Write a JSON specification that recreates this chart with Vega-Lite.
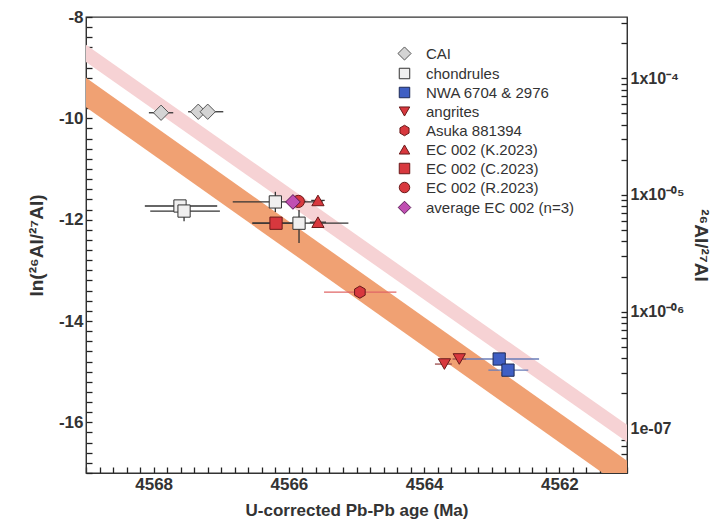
{
  "$schema": "https://vega.github.io/schema/vega-lite/v6.json",
  "width": 541,
  "height": 456,
  "autosize": {"type": "none"},
  "padding": {"left": 86, "top": 17, "right": 98, "bottom": 56},
  "background": "white",
  "config": {
    "view": {"stroke": "#333", "strokeWidth": 1.3},
    "font": "Liberation Sans",
    "axis": {"domainColor": "#333", "tickColor": "#222", "tickWidth": 1.3, "grid": false, "labelFont": "Liberation Sans", "labelFontWeight": "bold", "labelFontSize": 17, "labelColor": "#333", "titleFont": "Liberation Sans", "titleFontWeight": "bold", "titleFontSize": 18, "titleColor": "#333", "tickSize": -6, "labelPadding": 9, "zindex": 1},
    "legend": {"labelFont": "Liberation Sans", "labelFontSize": 15, "labelColor": "#333"}
  },
  "datasets": {
    "pts": [
      {"g": "CAI", "age": 4567.89, "ln": -9.89, "aLo": 4567.71, "aHi": 4568.07},
      {"g": "CAI", "age": 4567.34, "ln": -9.87, "aLo": 4567.19, "aHi": 4567.49},
      {"g": "CAI", "age": 4567.2, "ln": -9.87, "aLo": 4566.97, "aHi": 4567.42},
      {"g": "chondrules", "age": 4567.61, "ln": -11.73, "aLo": 4567.06, "aHi": 4568.13, "lLo": -11.63, "lHi": -11.83},
      {"g": "chondrules", "age": 4567.55, "ln": -11.83, "aLo": 4567.02, "aHi": 4568.05, "lLo": -11.63, "lHi": -12.03},
      {"g": "chondrules", "age": 4566.2, "ln": -11.65, "aLo": 4565.5, "aHi": 4566.83, "lLo": -11.45, "lHi": -11.85},
      {"g": "chondrules", "age": 4565.85, "ln": -12.07, "aLo": 4565.12, "aHi": 4566.54, "lLo": -11.81, "lHi": -12.46},
      {"g": "NWA 6704 & 2976", "age": 4562.89, "ln": -14.75, "aLo": 4562.3, "aHi": 4563.47},
      {"g": "NWA 6704 & 2976", "age": 4562.76, "ln": -14.97, "aLo": 4562.46, "aHi": 4563.05},
      {"g": "angrites", "age": 4563.7, "ln": -14.85, "aLo": 4563.59, "aHi": 4563.84},
      {"g": "angrites", "age": 4563.48, "ln": -14.75, "aLo": 4563.38, "aHi": 4563.58},
      {"g": "Asuka 881394", "age": 4564.95, "ln": -13.43, "aLo": 4564.41, "aHi": 4565.48},
      {"g": "EC 002 (K.2023)", "age": 4565.57, "ln": -11.62, "aLo": 4565.47, "aHi": 4565.67},
      {"g": "EC 002 (K.2023)", "age": 4565.57, "ln": -12.05, "aLo": 4565.45, "aHi": 4565.69},
      {"g": "EC 002 (C.2023)", "age": 4566.19, "ln": -12.07, "aLo": 4565.85, "aHi": 4566.54},
      {"g": "EC 002 (R.2023)", "age": 4565.86, "ln": -11.64, "aLo": 4565.75, "aHi": 4565.97},
      {"g": "average EC 002 (n=3)", "age": 4565.94, "ln": -11.65, "aLo": 4565.84, "aHi": 4566.04}
    ]
  },
  "layer": [
    {
      "data": {"values": [
        {"age": 4569, "lo": -8.89, "hi": -8.55},
        {"age": 4561, "lo": -16.39, "hi": -16.05}
      ]},
      "mark": {"type": "area", "color": "#f6d2d4", "clip": true},
      "encoding": {
        "x": {"field": "age", "type": "quantitative", "scale": {"domain": [4561, 4569], "reverse": true, "nice": false, "zero": false},
          "axis": {"title": "U-corrected Pb-Pb age (Ma)", "values": [4561,4561.2,4561.4,4561.6,4561.8,4562,4562.2,4562.4,4562.6,4562.8,4563,4563.2,4563.4,4563.6,4563.8,4564,4564.2,4564.4,4564.6,4564.8,4565,4565.2,4565.4,4565.6,4565.8,4566,4566.2,4566.4,4566.6,4566.8,4567,4567.2,4567.4,4567.6,4567.8,4568,4568.2,4568.4,4568.6,4568.8,4569],
            "labelExpr": "datum.value % 2 == 0 ? '' + datum.value : ''", "labelFlush": false, "labelOverlap": false, "titlePadding": 10, "titleFontSize": 17}},
        "y": {"field": "hi", "type": "quantitative", "scale": {"domain": [-17, -8], "nice": false, "zero": false},
          "axis": {"title": "ln(²⁶Al/²⁷Al)", "orient": "left", "values": [-17,-16.8,-16.6,-16.4,-16.2,-16,-15.8,-15.6,-15.4,-15.2,-15,-14.8,-14.6,-14.4,-14.2,-14,-13.8,-13.6,-13.4,-13.2,-13,-12.8,-12.6,-12.4,-12.2,-12,-11.8,-11.6,-11.4,-11.2,-11,-10.8,-10.6,-10.4,-10.2,-10,-9.8,-9.6,-9.4,-9.2,-9,-8.8,-8.6,-8.4,-8.2,-8],
            "labelExpr": "datum.value % 2 == 0 ? '' + datum.value : ''", "labelOverlap": false, "titlePadding": 12, "titleFontSize": 19}},
        "y2": {"field": "lo"}
      }
    },
    {
      "data": {"values": [
        {"age": 4569, "lo": -9.78, "hi": -9.2},
        {"age": 4561, "lo": -17.34, "hi": -16.76}
      ]},
      "mark": {"type": "area", "color": "#f0a173", "clip": true},
      "encoding": {
        "x": {"field": "age", "type": "quantitative", "axis": null},
        "y": {"field": "hi", "type": "quantitative", "axis": null},
        "y2": {"field": "lo"}
      }
    },
    {
      "data": {"name": "pts"},
      "transform": [{"filter": "datum.g != 'NWA 6704 & 2976' && datum.g != 'Asuka 881394' && datum.g != 'angrites'"}],
      "mark": {"type": "rule", "strokeWidth": 1.3, "color": "#333333"},
      "encoding": {
        "x": {"field": "aLo", "type": "quantitative", "axis": null},
        "x2": {"field": "aHi"},
        "y": {"field": "ln", "type": "quantitative", "axis": null}
      }
    },
    {
      "data": {"name": "pts"},
      "transform": [{"filter": "datum.g == 'NWA 6704 & 2976'"}],
      "mark": {"type": "rule", "strokeWidth": 1.3, "color": "#6a7cb8"},
      "encoding": {
        "x": {"field": "aLo", "type": "quantitative", "axis": null},
        "x2": {"field": "aHi"},
        "y": {"field": "ln", "type": "quantitative", "axis": null}
      }
    },
    {
      "data": {"name": "pts"},
      "transform": [{"filter": "datum.g == 'Asuka 881394'"}],
      "mark": {"type": "rule", "strokeWidth": 1.3, "color": "#e06666"},
      "encoding": {
        "x": {"field": "aLo", "type": "quantitative", "axis": null},
        "x2": {"field": "aHi"},
        "y": {"field": "ln", "type": "quantitative", "axis": null}
      }
    },
    {
      "data": {"name": "pts"},
      "transform": [{"filter": "datum.g == 'angrites'"}],
      "mark": {"type": "rule", "strokeWidth": 1.3, "color": "#9a4a4a"},
      "encoding": {
        "x": {"field": "aLo", "type": "quantitative", "axis": null},
        "x2": {"field": "aHi"},
        "y": {"field": "ln", "type": "quantitative", "axis": null}
      }
    },
    {
      "data": {"name": "pts"},
      "transform": [{"filter": "isValid(datum.lLo)"}],
      "mark": {"type": "rule", "strokeWidth": 1.3, "color": "#333333"},
      "encoding": {
        "x": {"field": "age", "type": "quantitative", "axis": null},
        "y": {"field": "lLo", "type": "quantitative", "axis": null},
        "y2": {"field": "lHi"}
      }
    },
    {
      "data": {"name": "pts"},
      "mark": {"type": "point", "filled": true, "opacity": 1, "strokeWidth": 1, "size": 150},
      "encoding": {
        "x": {"field": "age", "type": "quantitative", "axis": null},
        "y": {"field": "ln", "type": "quantitative", "axis": null},
        "shape": {"field": "g", "type": "nominal",
          "scale": {"domain": ["CAI","chondrules","NWA 6704 & 2976","angrites","Asuka 881394","EC 002 (K.2023)","EC 002 (C.2023)","EC 002 (R.2023)","average EC 002 (n=3)"],
            "range": ["M-1.25,0L0,-1.25L1.25,0L0,1.25Z","square","square","triangle-down","M0,-1L0.866,-0.5L0.866,0.5L0,1L-0.866,0.5L-0.866,-0.5Z","triangle-up","square","circle","M-1.2,0L0,-1.2L1.2,0L0,1.2Z"]},
          "legend": {"title": null, "orient": "none", "legendX": 311, "legendY": 29, "symbolSize": 110, "rowPadding": 3, "labelOffset": 14, "symbolStrokeWidth": 1}},
        "fill": {"field": "g", "type": "nominal",
          "scale": {"domain": ["CAI","chondrules","NWA 6704 & 2976","angrites","Asuka 881394","EC 002 (K.2023)","EC 002 (C.2023)","EC 002 (R.2023)","average EC 002 (n=3)"],
            "range": ["#d4d4d4","#f0efef","#3f5fc4","#d8383e","#d8383e","#d8383e","#d8383e","#d8383e","#c04fb2"]}},
        "stroke": {"field": "g", "type": "nominal",
          "scale": {"domain": ["CAI","chondrules","NWA 6704 & 2976","angrites","Asuka 881394","EC 002 (K.2023)","EC 002 (C.2023)","EC 002 (R.2023)","average EC 002 (n=3)"],
            "range": ["#555555","#333333","#1e2a55","#6a1a1a","#6a1a1a","#6a1a1a","#6a1a1a","#6a1a1a","#5a1a55"]}}
      }
    },
    {
      "data": {"values": [{"age": 4565, "ln": -12}]},
      "mark": {"type": "point", "opacity": 0},
      "encoding": {
        "x": {"field": "age", "type": "quantitative", "axis": null},
        "y": {"field": "ln", "type": "quantitative",
          "axis": {"orient": "right", "title": "²⁶Al/²⁷Al", "titleFontSize": 19, "labelFontSize": 16, "titlePadding": 6, "labelOverlap": false,
            "values": [-16.81124,-16.62892,-16.47477,-16.34124,-16.22346,-16.1181,-15.42495,-15.01949,-14.73181,-14.50866,-14.32634,-14.17219,-14.03866,-13.92088,-13.81551,-13.12236,-12.7169,-12.42922,-12.20607,-12.02375,-11.8696,-11.73607,-11.61829,-11.51293,-10.81978,-10.41431,-10.12663,-9.90349,-9.72117,-9.56702,-9.43349,-9.3157,-9.21034,-8.51719,-8.11173],
            "labelExpr": "datum.value == -9.21034 ? '1x10⁻⁴' : datum.value == -11.51293 ? '1x10⁻⁰⁵' : datum.value == -13.81551 ? '1x10⁻⁰⁶' : datum.value == -16.1181 ? '1e-07' : ''"}}
      }
    }
  ],
  "resolve": {"axis": {"x": "independent", "y": "independent"}}
}
